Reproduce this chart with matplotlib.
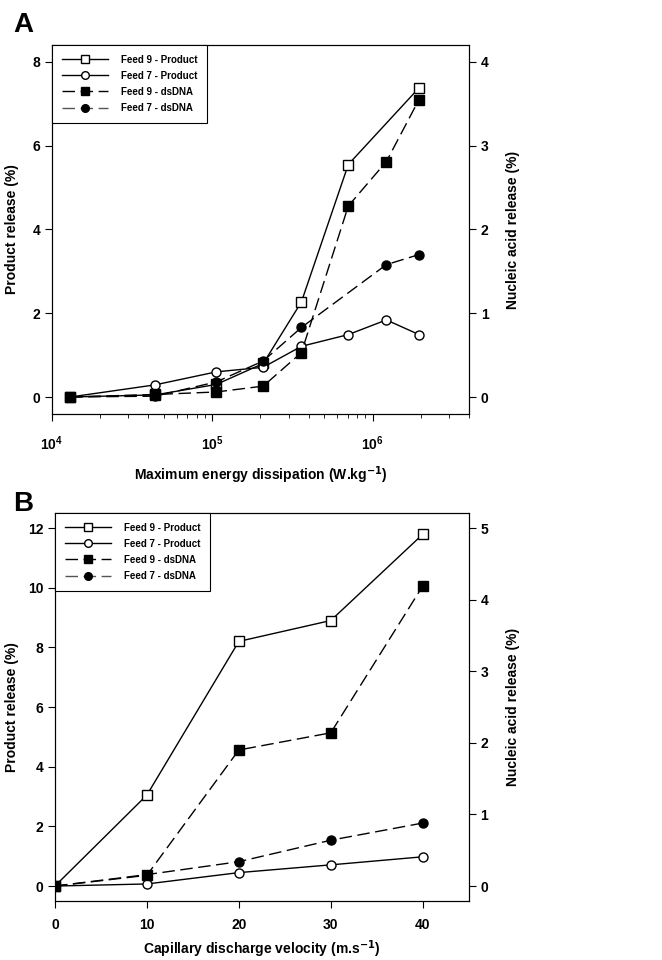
import matplotlib
matplotlib.use("Agg")
import matplotlib.pyplot as plt
from matplotlib.lines import Line2D

# panel A data (x in W/kg)
a_x = [1.3e4, 4.4e4, 1.06e5, 2.08e5, 3.6e5, 7.06e5, 1.22e6, 1.95e6]
a_f9_prod_x = [1.3e4, 4.4e4, 1.06e5, 2.08e5, 3.6e5, 7.06e5, 1.95e6]
a_f9_prod = [0.0, 0.05, 0.3, 0.8, 2.27, 5.55, 7.38]
a_f7_prod = [0.0, 0.29, 0.6, 0.71, 1.21, 1.49, 1.84, 1.49]
a_f9_dna = [0.0, 0.03, 0.06, 0.13, 0.53, 2.28, 2.81, 3.55]
a_f7_dna_x = [1.3e4, 4.4e4, 1.06e5, 2.08e5, 3.6e5, 1.22e6, 1.95e6]
a_f7_dna = [0.0, 0.01, 0.18, 0.43, 0.83, 1.58, 1.70]

# panel B data (x in m/s)
b_x = [0, 10, 20, 30, 40]
b_f9_prod = [0.0, 3.05, 8.2, 8.9, 11.79]
b_f7_prod = [0.0, 0.07, 0.45, 0.71, 0.98]
b_f9_dna = [0.0, 0.15, 1.9, 2.14, 4.19]
b_f7_dna = [0.0, 0.16, 0.34, 0.64, 0.88]

legend_labels = ["Feed 9 - Product", "Feed 7 - Product", "Feed 9 - dsDNA", "Feed 7 - dsDNA"]

FONT = ["Liberation Sans", "DejaVu Sans"]
DASH = (0, (9, 4))
MS = 6.5


def style_ticks(ax):
    for lab in ax.get_yticklabels() + ax.get_xticklabels():
        lab.set_family(FONT)
        lab.set_fontweight("bold")
        lab.set_fontsize(10)
    ax.tick_params(direction="out", length=5, width=0.8)


def add_legend(ax):
    handles = [
        Line2D([], [], color="black", lw=1, marker="s", mfc="white", mec="black", ms=5.5),
        Line2D([], [], color="black", lw=1, marker="o", mfc="white", mec="black", ms=5.5),
        Line2D([], [], color="black", lw=1, ls=DASH, marker="s", mfc="black", mec="black", ms=5.5),
        Line2D([], [], color="#555555", lw=1, ls=DASH, marker="o", mfc="black", mec="black", ms=5.5),
    ]
    leg = ax.legend(handles, legend_labels, loc="upper left", borderaxespad=0,
                    fancybox=False, framealpha=1, edgecolor="black", handlelength=4.8,
                    labelspacing=0.62, borderpad=1.0, handletextpad=1.3,
                    prop={"family": FONT, "weight": "bold", "size": 7})
    leg.get_frame().set_linewidth(0.8)


fig = plt.figure(figsize=(6.62, 9.6), dpi=100)

# ---------------- panel A ----------------
ax1 = fig.add_axes([0.0785, 0.569, 0.630, 0.384])
ax1.plot(a_f9_prod_x, a_f9_prod, color="black", lw=1, marker="s", mfc="white", mec="black", ms=MS, zorder=3)
ax1.plot(a_x, a_f7_prod, color="black", lw=1, marker="o", mfc="white", mec="black", ms=MS, zorder=3)
ax1.set_xscale("log")
ax1.set_xlim(1e4, 4e6)
ax1.set_ylim(-0.4, 8.4)
ax1.set_yticks([0, 2, 4, 6, 8])
ax1.set_ylabel("Product release (%)", family=FONT, weight="bold", fontsize=10)
ax1.yaxis.set_label_coords(-0.079, 0.5)
ax1.set_xlabel("Maximum energy dissipation (W.kg$^{\\mathbf{-1}}$)", family=FONT, weight="bold",
               fontsize=10, labelpad=8)

ax1r = ax1.twinx()
ax1r.plot(a_x, a_f9_dna, color="black", lw=1, ls=DASH, marker="s", mfc="black", mec="black", ms=MS, zorder=3)
ax1r.plot(a_f7_dna_x, a_f7_dna, color="black", lw=1, ls=DASH, marker="o", mfc="black", mec="black", ms=MS, zorder=3)
ax1r.set_ylim(-0.2, 4.2)
ax1r.set_yticks([0, 1, 2, 3, 4])
ax1r.set_ylabel("Nucleic acid release (%)", family=FONT, weight="bold", fontsize=10)
ax1r.yaxis.set_label_coords(1.089, 0.5)
style_ticks(ax1)
style_ticks(ax1r)
ax1.tick_params(axis="x", which="major", pad=10)
ax1.tick_params(axis="x", which="minor", direction="out", length=3)
add_legend(ax1r)
fig.text(0.02, 0.967, "A", fontsize=20, weight="bold", family=FONT)

# ---------------- panel B ----------------
ax2 = fig.add_axes([0.083, 0.0615, 0.625, 0.404])
ax2.plot(b_x, b_f9_prod, color="black", lw=1, marker="s", mfc="white", mec="black", ms=MS, zorder=3)
ax2.plot(b_x, b_f7_prod, color="black", lw=1, marker="o", mfc="white", mec="black", ms=MS, zorder=3)
ax2.set_xlim(0, 45)
ax2.set_xticks([0, 10, 20, 30, 40])
ax2.set_ylim(-0.5, 12.5)
ax2.set_yticks([0, 2, 4, 6, 8, 10, 12])
ax2.set_ylabel("Product release (%)", family=FONT, weight="bold", fontsize=10)
ax2.yaxis.set_label_coords(-0.087, 0.5)
ax2.set_xlabel("Capillary discharge velocity (m.s$^{\\mathbf{-1}}$)", family=FONT, weight="bold",
               fontsize=10, labelpad=5)

ax2r = ax2.twinx()
ax2r.plot(b_x, b_f9_dna, color="black", lw=1, ls=DASH, marker="s", mfc="black", mec="black", ms=MS, zorder=3)
ax2r.plot(b_x, b_f7_dna, color="black", lw=1, ls=DASH, marker="o", mfc="black", mec="black", ms=MS, zorder=3)
ax2r.set_ylim(-0.5 / 2.4, 12.5 / 2.4)
ax2r.set_yticks([0, 1, 2, 3, 4, 5])
ax2r.set_ylabel("Nucleic acid release (%)", family=FONT, weight="bold", fontsize=10)
ax2r.yaxis.set_label_coords(1.089, 0.5)
style_ticks(ax2)
style_ticks(ax2r)
ax2.tick_params(axis="x", pad=7)
add_legend(ax2r)
fig.text(0.02, 0.468, "B", fontsize=20, weight="bold", family=FONT)

fig.savefig("out.png", dpi=100)
